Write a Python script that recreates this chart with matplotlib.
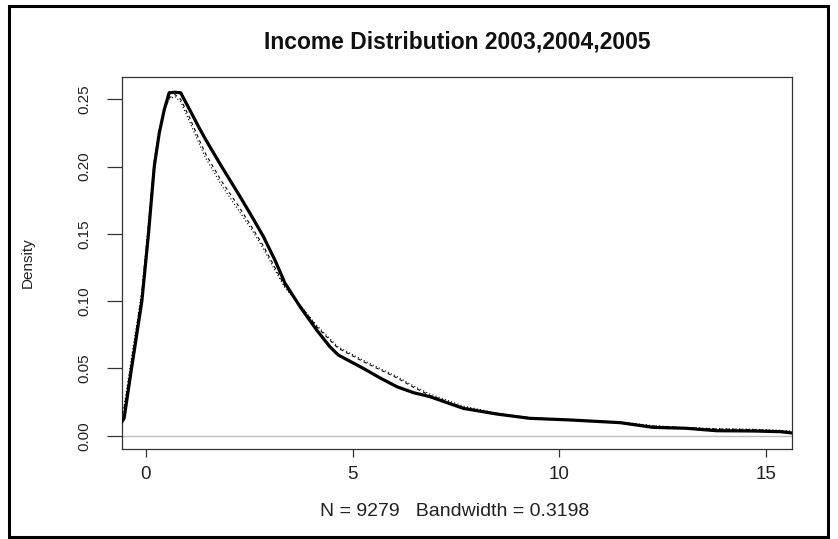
import matplotlib
matplotlib.use("Agg")
import matplotlib.pyplot as plt
from matplotlib.patches import Rectangle

# ---- data ----
income = [-0.59, -0.53, -0.35, -0.10, 0.06, 0.20, 0.32, 0.44, 0.56, 0.70,
          0.84, 1.06, 1.30, 1.45, 1.83, 2.23, 2.56, 2.84, 3.12, 3.36,
          3.73, 4.13, 4.45, 4.65, 5.26, 5.66, 6.07, 6.47, 6.87, 7.68,
          8.49, 9.29, 10.26, 11.47, 12.27, 13.08, 13.81, 14.69, 15.34, 15.64]

density_solid = [0.010, 0.013, 0.050, 0.100, 0.150, 0.200, 0.2247, 0.242, 0.2548, 0.2552,
                 0.2548, 0.242, 0.228, 0.2197, 0.200, 0.180, 0.163, 0.148, 0.1305, 0.1135,
                 0.0958, 0.0785, 0.0661, 0.060, 0.050, 0.043, 0.0364, 0.032, 0.029, 0.0203,
                 0.0161, 0.0129, 0.0117, 0.0097, 0.0062, 0.0055, 0.0037, 0.0035, 0.0030, 0.0020]

density_dashed = [0.016, 0.020, 0.056, 0.106, 0.156, 0.204, 0.226, 0.241, 0.251, 0.2535,
                  0.250, 0.236, 0.219, 0.209, 0.189, 0.171, 0.155, 0.141, 0.125, 0.111,
                  0.097, 0.081, 0.071, 0.065, 0.055, 0.049, 0.043, 0.036, 0.030, 0.021,
                  0.0165, 0.0133, 0.0118, 0.0100, 0.0072, 0.0058, 0.0050, 0.0045, 0.0036, 0.0030]

density_dotted = [0.018, 0.022, 0.058, 0.108, 0.158, 0.205, 0.227, 0.242, 0.250, 0.252,
                  0.248, 0.233, 0.216, 0.206, 0.186, 0.168, 0.153, 0.139, 0.123, 0.110,
                  0.097, 0.082, 0.072, 0.066, 0.056, 0.050, 0.044, 0.037, 0.031, 0.022,
                  0.0168, 0.0134, 0.0120, 0.0102, 0.0075, 0.0060, 0.0052, 0.0048, 0.0040, 0.0034]

x_ticks = [0, 5, 10, 15]
x_tick_labels = ["0", "5", "10", "15"]
y_ticks = [0.00, 0.05, 0.10, 0.15, 0.20, 0.25]
y_tick_labels = ["0.00", "0.05", "0.10", "0.15", "0.20", "0.25"]

title = "Income Distribution 2003,2004,2005"
x_label = "N = 9279   Bandwidth = 0.3198"
y_label = "Density"

# ---- figure ----
W, H = 838, 539
plt.rcParams['font.family'] = ['Liberation Sans', 'DejaVu Sans']
fig = plt.figure(figsize=(W / 100, H / 100), dpi=100)
fig.patch.set_facecolor("white")

left, right, top, bottom = 121.7, 792.3, 77.3, 449.0
ax = fig.add_axes([left / W, 1 - bottom / H, (right - left) / W, (bottom - top) / H])

ax.axhline(0, color="#bebebe", lw=1.0, zorder=1)
ax.plot(income, density_solid, color="black", lw=2.3, solid_joinstyle="round",
        solid_capstyle="round", zorder=3)
ax.plot(income, density_dashed, color="black", lw=0.8, linestyle=(0, (3, 3)), zorder=4)
ax.plot(income, density_dotted, color="black", lw=0.8, linestyle=(0, (1, 2)), zorder=4)

ax.set_xlim(-0.588, 15.64)
ax.set_ylim(-0.00988, 0.2663)

for s in ax.spines.values():
    s.set_color("#333333")
    s.set_linewidth(0.9)

ax.set_xticks(x_ticks)
ax.set_xticklabels(x_tick_labels)
ax.set_yticks(y_ticks)
ax.set_yticklabels(y_tick_labels, rotation=90, va="center")

ax.tick_params(axis="x", direction="out", length=6, width=0.9, color="#333333",
               labelsize=13.5, pad=6, labelcolor="#222222")
ax.tick_params(axis="y", direction="out", length=11, width=0.9, color="#333333",
               labelsize=11, pad=11, labelcolor="#222222")

fig.text(457 / W, 1 - 42 / H, title, ha="center", va="center",
         fontsize=16.5, fontweight="bold", color="#111111")
fig.text(455 / W, 1 - 512 / H, x_label, ha="center", va="center",
         fontsize=14, color="#222222")
fig.text(28 / W, 1 - 263 / H, y_label, ha="center", va="center",
         rotation=90, fontsize=11, color="#222222")

# outer frame
fig.patches.append(Rectangle((8.5 / W, 1 - 536.5 / H), (828 - 8.5) / W, (536.5 - 6) / H,
                             transform=fig.transFigure, fill=False,
                             edgecolor="black", linewidth=2.2))

fig.savefig("out.png", dpi=100, facecolor="white")
